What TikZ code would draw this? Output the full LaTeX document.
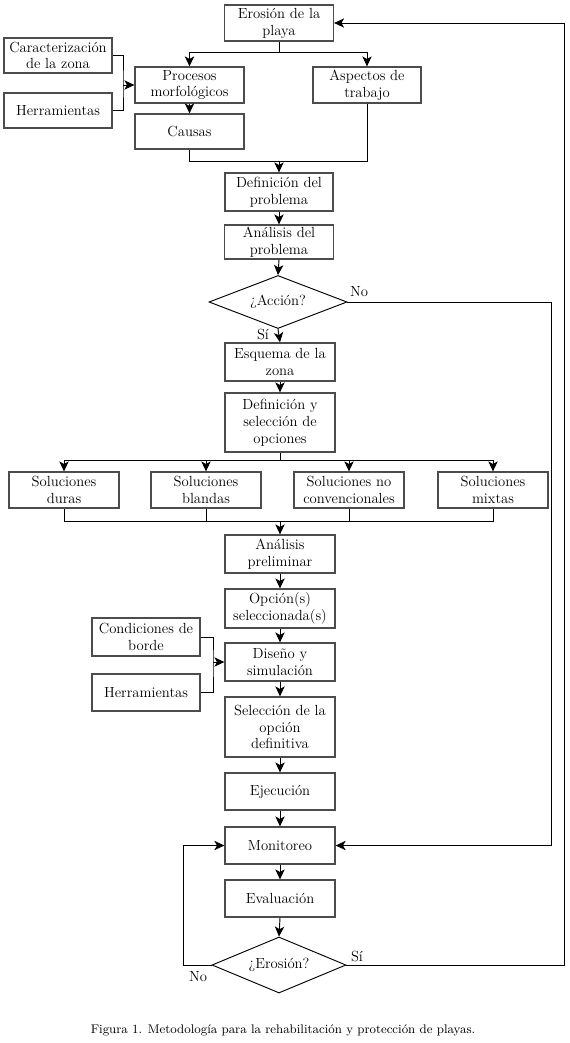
\documentclass[tikz,border=0pt]{standalone}
\usepackage{fontspec}
\usetikzlibrary{arrows.meta,shapes.geometric}
\tikzset{
  px/.style={x=0.75pt,y=-0.75pt},
  box/.style={draw=black!70, line width=0.95pt, align=center, inner sep=1pt,
    font=\fontsize{11}{12.6}\selectfont},
  dec/.style={diamond, draw=black, line width=0.7pt, inner sep=0pt, aspect=2.5,
    font=\fontsize{11}{12.6}\selectfont},
  conn/.style={draw=black, line width=0.7pt},
  arr/.style={conn, -{Stealth[length=7.5pt,width=7pt,inset=2pt]}},
  lbl/.style={font=\fontsize{11}{12.6}\selectfont, inner sep=0pt}
}
\begin{document}
\begin{tikzpicture}[px]
\useasboundingbox (0,0) rectangle (569,1043);
\fill[white] (0,0) rectangle (569,1043);
% nodes
\node[box,minimum width=81.75pt,minimum height=27pt] (ero) at (279,23) {Erosión de la\\playa};
\node[box,minimum width=81pt,minimum height=26.25pt] (car) at (58,55.5) {Caracterización\\de la zona};
\node[box,minimum width=81pt,minimum height=26.25pt] (her1) at (58,110.5) {Herramientas};
\node[box,minimum width=81.75pt,minimum height=27pt] (pro) at (189.5,85) {Procesos\\morfológicos};
\node[box,minimum width=81pt,minimum height=27pt] (asp) at (367,85) {Aspectos de\\trabajo};
\node[box,minimum width=81.75pt,minimum height=26.25pt] (cau) at (189.5,131.5) {Causas};
\node[box,minimum width=81pt,minimum height=28.5pt] (def) at (279,192) {Definición del\\problema};
\node[box,minimum width=81.75pt,minimum height=25.5pt] (ana) at (279,242) {Análisis del\\problema};
\node[dec,minimum width=103.5pt,minimum height=39.75pt] (acc) at (278,302) {¿Acción?};
\node[box,minimum width=82.5pt,minimum height=28.5pt] (esq) at (280,362) {Esquema de la\\zona};
\node[box,minimum width=82.5pt,minimum height=44.25pt] (dys) at (280,422.5) {Definición y\\selección de\\opciones};
\node[box,minimum width=82.5pt,minimum height=27pt] (sd) at (64,490) {Soluciones\\duras};
\node[box,minimum width=82.5pt,minimum height=27pt] (sb) at (206,490) {Soluciones\\blandas};
\node[box,minimum width=82.5pt,minimum height=27pt] (snc) at (349,490) {Soluciones no\\convencionales};
\node[box,minimum width=82.5pt,minimum height=27pt] (sm) at (493,490) {Soluciones\\mixtas};
\node[box,minimum width=82.5pt,minimum height=28.5pt] (ap) at (280,554) {Análisis\\preliminar};
\node[box,minimum width=82.5pt,minimum height=29.25pt] (op) at (280,608.5) {Opción(s)\\seleccionada(s)};
\node[box,minimum width=81pt,minimum height=28.5pt] (cb) at (146,637) {Condiciones de\\borde};
\node[box,minimum width=81pt,minimum height=27.75pt] (her2) at (146,692.5) {Herramientas};
\node[box,minimum width=82.5pt,minimum height=28.5pt] (dis) at (280,662) {Diseño y\\simulación};
\node[box,minimum width=82.5pt,minimum height=45pt] (sel) at (280,727) {Selección de la\\opción\\definitiva};
\node[box,minimum width=82.5pt,minimum height=27.75pt] (eje) at (280,791.5) {Ejecución};
\node[box,minimum width=82.5pt,minimum height=27.75pt] (mon) at (280,845.5) {Monitoreo};
\node[box,minimum width=82.5pt,minimum height=27.75pt] (eva) at (280,898.5) {Evaluación};
\node[dec,minimum width=100.5pt,minimum height=42pt] (ers) at (279,965) {¿Erosión?};
% labels
\node[lbl] (lno1) at (359,292) {No};
\node[lbl] (lsi1) at (263,334) {Sí};
\node[lbl] (lsi2) at (357,956) {Sí};
\node[lbl] (lno2) at (198,977) {No};
\node[font=\fontsize{9.4}{11}\selectfont, inner sep=0pt] (cap) at (283,1030) {Figura 1. Metodología para la rehabilitación y protección de playas.};
% junction coordinates
\coordinate (s1) at (279,52);
\coordinate (b1) at (123,85);
\coordinate (m1) at (279,161);
\coordinate (s2) at (280,460);
\coordinate (m2) at (280,521);
\coordinate (b2) at (213,662);
\coordinate (r1) at (551,845.5);
\coordinate (r2) at (564,23);
\coordinate (l1) at (183,845.5);
% connectors
\draw[conn] (ero.south) -- (s1);
\draw[arr] (s1) -| (pro.north);
\draw[arr] (s1) -| (asp.north);
\draw[conn] (car.east) -| (b1) |- (her1.east);
\draw[arr] (b1) -- (pro.west);
\draw[arr] (pro.south) -- (cau.north);
\draw[conn] (cau.south) |- (m1);
\draw[conn] (asp.south) |- (m1);
\draw[arr] (m1) -- (def.north);
\draw[arr] (def.south) -- (ana.north);
\draw[arr] (ana.south) -- (acc.north);
\draw[arr] (acc.south) -- (esq.north);
\draw[arr] (esq.south) -- (dys.north);
\draw[conn] (dys.south) -- (s2);
\draw[arr] (s2) -| (sd.north);
\draw[arr] (s2) -| (sb.north);
\draw[arr] (s2) -| (snc.north);
\draw[arr] (s2) -| (sm.north);
\draw[conn] (sd.south) |- (m2);
\draw[conn] (sb.south) |- (m2);
\draw[conn] (snc.south) |- (m2);
\draw[conn] (sm.south) |- (m2);
\draw[arr] (m2) -- (ap.north);
\draw[arr] (ap.south) -- (op.north);
\draw[arr] (op.south) -- (dis.north);
\draw[conn] (cb.east) -| (b2) |- (her2.east);
\draw[arr] (b2) -- (dis.west);
\draw[arr] (dis.south) -- (sel.north);
\draw[arr] (sel.south) -- (eje.north);
\draw[arr] (eje.south) -- (mon.north);
\draw[arr] (mon.south) -- (eva.north);
\draw[arr] (eva.south) -- (ers.north);
\draw[arr] (acc.east) -| (r1) -- (mon.east);
\draw[arr] (ers.east) -| (r2) -- (ero.east);
\draw[arr] (ers.west) -| (l1) -- (mon.west);
\end{tikzpicture}
\end{document}
